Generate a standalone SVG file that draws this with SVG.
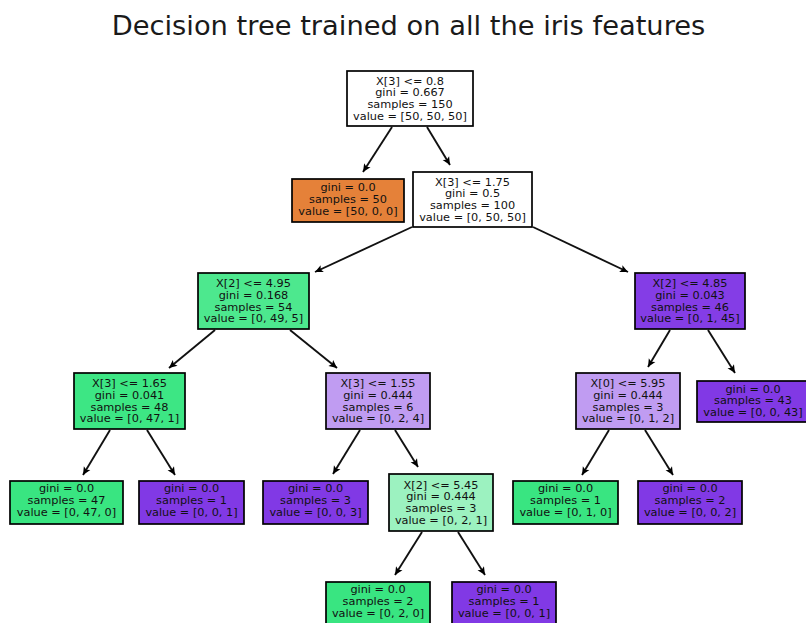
<svg xmlns="http://www.w3.org/2000/svg" width="806" height="623" viewBox="0 0 806 623">
  <defs>
    <marker id="head" viewBox="-9 -4.5 9 9" refX="0" refY="0" markerWidth="9" markerHeight="9" markerUnits="userSpaceOnUse" orient="auto">
      <path d="M0,0 L-8,-3.8 L-6.2,0 L-8,3.8 Z" fill="#000"/>
    </marker>
  </defs>
  <style>
    .title { font-family: "DejaVu Sans", sans-serif; font-size: 27.3px; fill: #1a1a1a; }
    .box { stroke: #000; stroke-width: 1.7; }
    .node text { font-family: "DejaVu Sans", sans-serif; font-size: 11.3px; fill: #111; text-anchor: middle; }
    .edges line { stroke: #111; stroke-width: 1.9; marker-end: url(#head); }
    .white { fill: #ffffff; }
    .orange { fill: #e58139; }
    .green { fill: #39e581; }
    .purple { fill: #8139e5; }
    .g90 { fill: #4de88e; }
    .g98 { fill: #3de684; }
    .g50 { fill: #9cf2c0; }
    .p98 { fill: #843de6; }
    .p50 { fill: #c09cf2; }
  </style>

  <rect width="806" height="623" fill="#ffffff"/>

  <text class="title" x="408.5" y="35" text-anchor="middle">Decision tree trained on all the iris features</text>

  <g class="edges">
    <line x1="392" y1="127" x2="363" y2="172"/>
    <line x1="427" y1="127" x2="450" y2="165"/>
    <line x1="412" y1="227" x2="315" y2="272"/>
    <line x1="533" y1="227" x2="628" y2="272"/>
    <line x1="215" y1="330" x2="169" y2="368"/>
    <line x1="290" y1="330" x2="337" y2="368"/>
    <line x1="670" y1="330" x2="648" y2="367"/>
    <line x1="708" y1="330" x2="735" y2="373"/>
    <line x1="110" y1="430" x2="83" y2="475"/>
    <line x1="147" y1="430" x2="175" y2="475"/>
    <line x1="360" y1="430" x2="333" y2="474"/>
    <line x1="395" y1="430" x2="418" y2="467"/>
    <line x1="609" y1="430" x2="582" y2="475"/>
    <line x1="645" y1="430" x2="673" y2="475"/>
    <line x1="422" y1="532" x2="395" y2="575"/>
    <line x1="458" y1="532" x2="485" y2="575"/>
  </g>

  <g id="node0" class="node">
    <rect class="box white" x="347" y="71" width="126" height="55"/>
    <text x="410" y="84.5">X[3] &lt;= 0.8</text>
    <text x="410" y="96.3">gini = 0.667</text>
    <text x="410" y="108.1">samples = 150</text>
    <text x="410" y="119.9">value = [50, 50, 50]</text>
  </g>

  <g id="node1" class="node">
    <rect class="box orange" x="292" y="179" width="112" height="43"/>
    <text x="348" y="191">gini = 0.0</text>
    <text x="348" y="202.8">samples = 50</text>
    <text x="348" y="214.6">value = [50, 0, 0]</text>
  </g>

  <g id="node2" class="node">
    <rect class="box white" x="413" y="172" width="119" height="55"/>
    <text x="472.5" y="185.5">X[3] &lt;= 1.75</text>
    <text x="472.5" y="197.3">gini = 0.5</text>
    <text x="472.5" y="209.1">samples = 100</text>
    <text x="472.5" y="220.9">value = [0, 50, 50]</text>
  </g>

  <g id="node3" class="node">
    <rect class="box g90" x="198" y="273" width="111" height="56"/>
    <text x="253.5" y="287">X[2] &lt;= 4.95</text>
    <text x="253.5" y="298.8">gini = 0.168</text>
    <text x="253.5" y="310.6">samples = 54</text>
    <text x="253.5" y="322.4">value = [0, 49, 5]</text>
  </g>

  <g id="node4" class="node">
    <rect class="box p98" x="635" y="273" width="110" height="56"/>
    <text x="690" y="287">X[2] &lt;= 4.85</text>
    <text x="690" y="298.8">gini = 0.043</text>
    <text x="690" y="310.6">samples = 46</text>
    <text x="690" y="322.4">value = [0, 1, 45]</text>
  </g>

  <g id="node5" class="node">
    <rect class="box g98" x="74" y="373" width="111" height="56"/>
    <text x="129.5" y="387">X[3] &lt;= 1.65</text>
    <text x="129.5" y="398.8">gini = 0.041</text>
    <text x="129.5" y="410.6">samples = 48</text>
    <text x="129.5" y="422.4">value = [0, 47, 1]</text>
  </g>

  <g id="node6" class="node">
    <rect class="box p50" x="326" y="373" width="104" height="56"/>
    <text x="378" y="387">X[3] &lt;= 1.55</text>
    <text x="378" y="398.8">gini = 0.444</text>
    <text x="378" y="410.6">samples = 6</text>
    <text x="378" y="422.4">value = [0, 2, 4]</text>
  </g>

  <g id="node7" class="node">
    <rect class="box p50" x="576" y="373" width="104" height="56"/>
    <text x="628" y="387">X[0] &lt;= 5.95</text>
    <text x="628" y="398.8">gini = 0.444</text>
    <text x="628" y="410.6">samples = 3</text>
    <text x="628" y="422.4">value = [0, 1, 2]</text>
  </g>

  <g id="node8" class="node">
    <rect class="box purple" x="697" y="381" width="112" height="41"/>
    <text x="753" y="392.5">gini = 0.0</text>
    <text x="753" y="404.3">samples = 43</text>
    <text x="753" y="416.1">value = [0, 0, 43]</text>
  </g>

  <g id="node9" class="node">
    <rect class="box green" x="10" y="481" width="113" height="43"/>
    <text x="66.5" y="492">gini = 0.0</text>
    <text x="66.5" y="503.8">samples = 47</text>
    <text x="66.5" y="515.6">value = [0, 47, 0]</text>
  </g>

  <g id="node10" class="node">
    <rect class="box purple" x="139" y="481" width="105" height="43"/>
    <text x="191.5" y="492">gini = 0.0</text>
    <text x="191.5" y="503.8">samples = 1</text>
    <text x="191.5" y="515.6">value = [0, 0, 1]</text>
  </g>

  <g id="node11" class="node">
    <rect class="box purple" x="263" y="481" width="105" height="43"/>
    <text x="315.5" y="492">gini = 0.0</text>
    <text x="315.5" y="503.8">samples = 3</text>
    <text x="315.5" y="515.6">value = [0, 0, 3]</text>
  </g>

  <g id="node12" class="node">
    <rect class="box g50" x="389" y="474" width="104" height="57"/>
    <text x="441" y="488.5">X[2] &lt;= 5.45</text>
    <text x="441" y="500.3">gini = 0.444</text>
    <text x="441" y="512.1">samples = 3</text>
    <text x="441" y="523.9">value = [0, 2, 1]</text>
  </g>

  <g id="node13" class="node">
    <rect class="box green" x="513" y="481" width="105" height="43"/>
    <text x="565.5" y="492">gini = 0.0</text>
    <text x="565.5" y="503.8">samples = 1</text>
    <text x="565.5" y="515.6">value = [0, 1, 0]</text>
  </g>

  <g id="node14" class="node">
    <rect class="box purple" x="638" y="481" width="104" height="43"/>
    <text x="690" y="492">gini = 0.0</text>
    <text x="690" y="503.8">samples = 2</text>
    <text x="690" y="515.6">value = [0, 0, 2]</text>
  </g>

  <g id="node15" class="node">
    <rect class="box green" x="326" y="582" width="104" height="43"/>
    <text x="378" y="593">gini = 0.0</text>
    <text x="378" y="604.8">samples = 2</text>
    <text x="378" y="616.6">value = [0, 2, 0]</text>
  </g>

  <g id="node16" class="node">
    <rect class="box purple" x="452" y="582" width="104" height="43"/>
    <text x="504" y="593">gini = 0.0</text>
    <text x="504" y="604.8">samples = 1</text>
    <text x="504" y="616.6">value = [0, 0, 1]</text>
  </g>
</svg>
